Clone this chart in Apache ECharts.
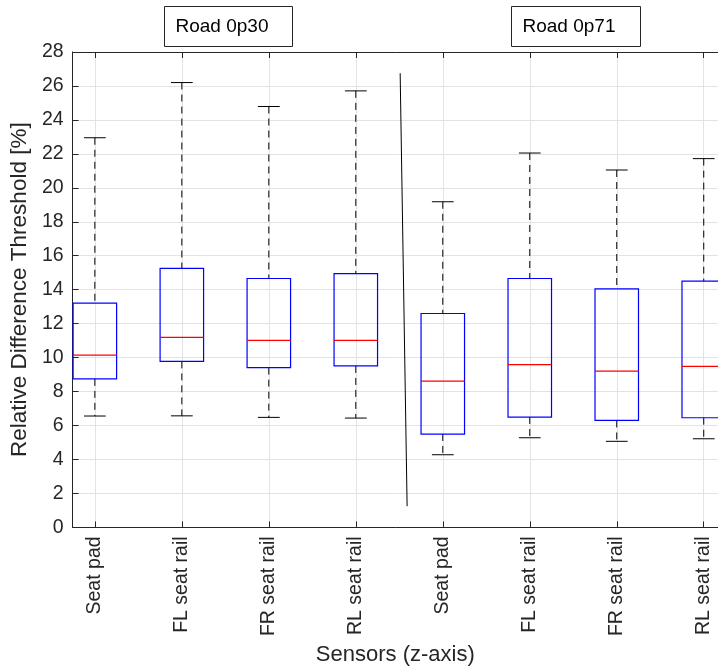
<!DOCTYPE html>
<html>
<head>
<meta charset="utf-8">
<script src="https://cdn.jsdelivr.net/npm/echarts@6/dist/echarts.min.js"></script>
<style>
html,body{margin:0;padding:0;background:#fff;}
#chart{width:718px;height:671px;}
</style>
</head>
<body>
<div id="chart"></div>
<script>
// ---- data ----
const categories = ['Seat pad', 'FL seat rail', 'FR seat rail', 'RL seat rail',
                    'Seat pad', 'FL seat rail', 'FR seat rail', 'RL seat rail'];
const groupLabels = ['Road 0p30', 'Road 0p71'];
const lowerWhisker = [6.56, 6.57, 6.48, 6.44, 4.28, 5.28, 5.07, 5.22];
const q1Values     = [8.75, 9.78, 9.41, 9.51, 5.50, 6.50, 6.30, 6.46];
const medianValues = [10.15, 11.19, 11.02, 11.02, 8.61, 9.59, 9.20, 9.49];
const q3Values     = [13.21, 15.26, 14.66, 14.95, 12.60, 14.66, 14.05, 14.50];
const upperWhisker = [22.95, 26.20, 24.79, 25.71, 19.18, 22.05, 21.05, 21.72];
const dividerLine  = [[4.51, 26.75], [4.59, 1.25]];
const yTicks = [0, 2, 4, 6, 8, 10, 12, 14, 16, 18, 20, 22, 24, 26, 28];

const positions = categories.map((c, i) => i + 1);
const boxData = positions.map((p, i) => [p, lowerWhisker[i], q1Values[i], medianValues[i], q3Values[i], upperWhisker[i]]);

const FONT = 'Liberation Sans, Arial, Helvetica, sans-serif';
const AX = '#262626';
const GRIDC = '#e3e3e3';

function renderBox(params, api) {
  const x = api.value(0);
  const lo = api.coord([x, api.value(1)]);
  const q1 = api.coord([x, api.value(2)]);
  const md = api.coord([x, api.value(3)]);
  const q3 = api.coord([x, api.value(4)]);
  const hi = api.coord([x, api.value(5)]);
  const hb = api.size([0.25, 0])[0];
  const hc = api.size([0.125, 0])[0];
  const cx = lo[0];
  const dashStyle = {stroke: '#000', lineWidth: 1, lineDash: [7, 5], fill: null};
  const solid = {stroke: '#000', lineWidth: 1, fill: null};
  return {
    type: 'group',
    children: [
      {type: 'line', shape: {x1: cx, y1: hi[1], x2: cx, y2: q3[1]}, style: dashStyle},
      {type: 'line', shape: {x1: cx, y1: q1[1], x2: cx, y2: lo[1]}, style: dashStyle},
      {type: 'line', shape: {x1: cx - hc, y1: hi[1], x2: cx + hc, y2: hi[1]}, style: solid},
      {type: 'line', shape: {x1: cx - hc, y1: lo[1], x2: cx + hc, y2: lo[1]}, style: solid},
      {type: 'rect', shape: {x: cx - hb, y: q3[1], width: 2 * hb, height: q1[1] - q3[1]},
       style: {stroke: '#0000ff', lineWidth: 1.2, fill: null}},
      {type: 'line', shape: {x1: cx - hb, y1: md[1], x2: cx + hb, y2: md[1]},
       style: {stroke: '#ff0000', lineWidth: 1.2}}
    ]
  };
}

const chart = echarts.init(document.getElementById('chart'), null, {renderer: 'canvas'});
chart.setOption({
  backgroundColor: '#fff',
  animation: false,
  grid: {left: 72, right: 0, top: 52, bottom: 142, containLabel: false},
  xAxis: [{
    type: 'value', min: 0.744, max: 8.164,
    name: 'Sensors (z-axis)', nameLocation: 'middle', nameGap: 113,
    nameTextStyle: {fontFamily: FONT, fontSize: 22, color: AX},
    axisLine: {show: true, lineStyle: {color: AX, width: 1}},
    axisTick: {show: true, inside: true, length: 6, lineStyle: {color: AX}, customValues: positions},
    axisLabel: {show: true, rotate: 90, margin: 9, fontFamily: FONT, fontSize: 19.5, color: AX,
                customValues: positions, formatter: v => categories[Math.round(v) - 1] || ''},
    splitLine: {show: true, lineStyle: {color: GRIDC, width: 1}}
  }, {
    type: 'value', position: 'top', min: 0.744, max: 8.164,
    axisLine: {show: true, lineStyle: {color: AX, width: 1}},
    axisTick: {show: true, inside: true, length: 6, lineStyle: {color: AX}, customValues: positions},
    axisLabel: {show: false},
    splitLine: {show: false}
  }],
  yAxis: {
    type: 'value', min: 0, max: 28, interval: 2,
    name: 'Relative Difference Threshold [%]', nameLocation: 'middle', nameGap: 39,
    nameTextStyle: {fontFamily: FONT, fontSize: 22.5, color: AX},
    axisLine: {show: true, lineStyle: {color: AX, width: 1}},
    axisTick: {show: true, inside: true, length: 6, lineStyle: {color: AX}},
    axisLabel: {fontFamily: FONT, fontSize: 19.5, color: AX, margin: 9,
                formatter: v => (yTicks.indexOf(v) >= 0 ? String(v) : '')},
    splitLine: {show: true, lineStyle: {color: GRIDC, width: 1}}
  },
  graphic: [
    {type: 'group', left: 164, top: 6, children: [
      {type: 'rect', shape: {x: 0, y: 0, width: 128, height: 40}, style: {fill: '#fff', stroke: '#262626', lineWidth: 1}},
      {type: 'text', x: 11, y: 20, style: {text: groupLabels[0], fontFamily: FONT, fontSize: 19, fill: '#000', verticalAlign: 'middle'}}
    ]},
    {type: 'group', left: 511, top: 6, children: [
      {type: 'rect', shape: {x: 0, y: 0, width: 129, height: 40}, style: {fill: '#fff', stroke: '#262626', lineWidth: 1}},
      {type: 'text', x: 11, y: 20, style: {text: groupLabels[1], fontFamily: FONT, fontSize: 19, fill: '#000', verticalAlign: 'middle'}}
    ]}
  ],
  series: [{
    type: 'custom',
    xAxisIndex: 0,
    renderItem: renderBox,
    encode: {x: 0, y: [1, 2, 3, 4, 5]},
    data: boxData,
    clip: false
  }, {
    type: 'line',
    xAxisIndex: 0,
    data: dividerLine,
    symbol: 'none',
    lineStyle: {color: '#000', width: 1},
    silent: true
  }]
});
</script>
</body>
</html>
